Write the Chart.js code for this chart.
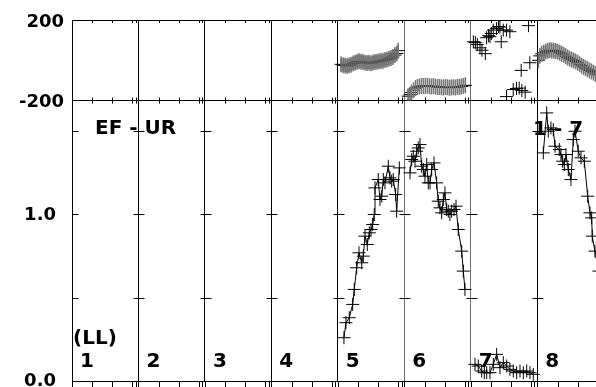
<!DOCTYPE html>
<html>
<head>
<meta charset="utf-8">
<script src="https://cdn.jsdelivr.net/npm/chart.js@4.4.1/dist/chart.umd.min.js"></script>
<style>
  html, body { margin: 0; padding: 0; background: #fff; overflow: hidden; }
  canvas { display: block; }
</style>
</head>
<body>
<canvas id="visChart" width="596" height="387"></canvas>
<script>
// baselines, numbered along the bottom of the amplitude panel
const baselines = ['1', '2', '3', '4', '5', '6', '7', '8'];
const phaseTicks = [-200, 0, 200];
const ampTicks = [0, 0.5, 1.0, 1.5];
const minorTicks = [0.307, 0.608, 0.909, 0.960];   // time ticks inside each baseline

// amplitude (t = fraction of the baseline's time range)
const amp5T = [0.093,0.123,0.173,0.224,0.248,0.284,0.319,0.360,0.384,0.409,0.444,0.474,0.500,0.525,0.549,0.560,0.609,0.635,0.661,0.685,0.710,0.760,0.786,0.811,0.835,0.871,0.886,0.926];
const amp5  = [0.26,0.35,0.38,0.46,0.55,0.68,0.77,0.71,0.75,0.87,0.82,0.89,0.91,0.94,1.00,1.16,1.21,1.09,1.11,1.21,1.19,1.29,1.22,1.20,1.21,1.12,1.02,1.28];
const amp6T = [0.087,0.112,0.136,0.162,0.187,0.211,0.237,0.263,0.287,0.312,0.338,0.362,0.388,0.413,0.448,0.488,0.512,0.538,0.564,0.588,0.613,0.639,0.663,0.688,0.714,0.749,0.779,0.813,0.865,0.889,0.914];
const amp6  = [1.25,1.33,1.35,1.32,1.38,1.40,1.42,1.29,1.27,1.23,1.30,1.19,1.19,1.27,1.31,1.19,1.08,1.04,1.01,1.09,1.13,1.03,1.02,1.00,1.02,1.03,1.05,0.91,0.78,0.66,0.55];
const amp7T = [0.065,0.114,0.166,0.205,0.241,0.290,0.340,0.391,0.441,0.491,0.542,0.591,0.641,0.692,0.742,0.792,0.843,0.892,0.942];
const amp7  = [0.10,0.09,0.06,0.05,0.05,0.05,0.10,0.16,0.08,0.11,0.09,0.07,0.06,0.05,0.06,0.05,0.06,0.05,0.04];
const amp8T = [0.093,0.144,0.168,0.208,0.243,0.269,0.333,0.359,0.384,0.409,0.434,0.469,0.509,0.544,0.570,0.619,0.660,0.710,0.761,0.795,0.821,0.830,0.870,0.930];
const amp8  = [1.37,1.61,1.50,1.52,1.51,1.41,1.39,1.36,1.32,1.30,1.36,1.27,1.21,1.45,1.50,1.38,1.34,1.32,1.11,1.01,0.98,0.87,0.78,0.66];

// phase in degrees
const ph5T = [0.05,0.08,0.11,0.14,0.17,0.20,0.23,0.26,0.29,0.32,0.35,0.38,0.41,0.44,0.47,0.50,0.53,0.56,0.59,0.62,0.65,0.68,0.71,0.74,0.77,0.80,0.83,0.86,0.89,0.91];
const ph5  = [-20,-24,-26,-28,-25,-22,-16,-12,-7,-5,-7,-9,-12,-13,-12,-14,-11,-8,-7,-5,-3,-2,2,4,8,12,17,26,34,48];
const ph6T = [0.06,0.09,0.11,0.14,0.17,0.20,0.23,0.26,0.29,0.32,0.35,0.38,0.41,0.44,0.47,0.50,0.53,0.56,0.59,0.62,0.65,0.68,0.71,0.74,0.77,0.80,0.83,0.86,0.89,0.92];
const ph6  = [-178,-170,-160,-148,-138,-133,-130,-128,-127,-128,-126,-129,-130,-128,-131,-133,-132,-134,-135,-133,-134,-136,-135,-134,-135,-133,-131,-130,-127,-124];
const ph7T = [0.04,0.07,0.10,0.14,0.17,0.22,0.24,0.27,0.29,0.31,0.34,0.39,0.42,0.44,0.46,0.49,0.54,0.59,0.87,0.54,0.64,0.69,0.73,0.77,0.82,0.76,0.89];
const ph7  = [92,88,78,62,50,33,112,122,117,133,150,158,167,165,92,150,150,142,172,-180,-145,-140,-138,-150,-158,-50,-12];
const ph8T = [0.02,0.04,0.07,0.10,0.13,0.16,0.19,0.22,0.25,0.28,0.31,0.34,0.37,0.40,0.43,0.46,0.49,0.52,0.55,0.58,0.61,0.64,0.67,0.70,0.73,0.76,0.79,0.82,0.85,0.88,0.91];
const ph8  = [0,22,32,38,44,47,50,49,48,46,43,38,33,27,20,14,8,3,-1,-6,-12,-20,-27,-33,-39,-44,-50,-56,-62,-68,-72];

const FONT = '"DejaVu Sans", sans-serif';

function points(seg, ts, vals) {
    return ts.map((t, i) => ({ x: seg - 1 + t, y: vals[i] }));
}

function ampSet(seg, ts, vals) {
    return {
        data: points(seg, ts, vals), yAxisID: 'yAmp', showLine: true,
        borderColor: '#000', borderWidth: 1, tension: 0,
        pointStyle: 'cross', pointRadius: 6.5, pointBorderWidth: 1, pointBorderColor: '#000'
    };
}

function phaseBars(seg, ts, vals) {
    return {
        data: points(seg, ts, vals), yAxisID: 'yPhase', showLine: false,
        pointStyle: 'line', pointRotation: 90, pointRadius: 8,
        pointBorderWidth: 1.5, pointBorderColor: '#777'
    };
}

function phaseCross(seg, ts, vals) {
    return {
        data: points(seg, ts, vals), yAxisID: 'yPhase', showLine: false,
        pointStyle: 'cross', pointRadius: 6.5, pointBorderWidth: 1, pointBorderColor: '#000'
    };
}

// axis decorations: small time ticks and the tick crosses on every baseline line
const framePlugin = {
    id: 'frame',
    beforeDatasetsDraw(chart) {
        const ctx = chart.ctx;
        const x = chart.scales.x, yP = chart.scales.yPhase, yA = chart.scales.yAmp;
        ctx.save();
        ctx.strokeStyle = '#000';
        ctx.lineWidth = 1;
        ctx.beginPath();
        baselines.forEach((b, k) => {
            minorTicks.forEach(f => {
                const px = Math.round(x.getPixelForValue(k + f)) + 0.5;
                ctx.moveTo(px, yP.top); ctx.lineTo(px, yP.top + 3);
                ctx.moveTo(px, yP.bottom - 3); ctx.lineTo(px, yP.bottom + 3);
                ctx.moveTo(px, yA.bottom); ctx.lineTo(px, yA.bottom + 7);
            });
            const bx = Math.round(x.getPixelForValue(k)) + 0.5;
            ctx.moveTo(bx, yA.bottom); ctx.lineTo(bx, yA.bottom + 7);
            ampTicks.forEach(v => {
                if (v === 0) return;
                const py = Math.round(yA.getPixelForValue(v)) + 0.5;
                ctx.moveTo(k === 0 ? bx : bx - 5, py);
                ctx.lineTo(bx + 6, py);
            });
        });
        ctx.stroke();
        ctx.restore();
    },
    afterDatasetsDraw(chart) {
        const ctx = chart.ctx;
        const x = chart.scales.x;
        ctx.save();
        ctx.fillStyle = '#000';
        ctx.font = 'bold 20px ' + FONT;
        ctx.textBaseline = 'alphabetic';
        ctx.fillText('EF - UR', 95, 134);
        ctx.fillText('1 - 7', 533, 134.5);
        ctx.fillText('(LL)', 73, 344);
        baselines.forEach((b, k) => {
            ctx.fillText(b, x.getPixelForValue(k) + 8, 366.5);
        });
        ctx.restore();
    }
};

const tickFont = { family: FONT, size: 18, weight: 'bold' };

new Chart(document.getElementById('visChart'), {
    type: 'scatter',
    data: {
        datasets: [
            ampSet(5, amp5T, amp5), ampSet(6, amp6T, amp6), ampSet(7, amp7T, amp7), ampSet(8, amp8T, amp8),
            phaseBars(5, ph5T, ph5), phaseBars(6, ph6T, ph6), phaseBars(8, ph8T, ph8),
            phaseCross(5, ph5T, ph5), phaseCross(6, ph6T, ph6), phaseCross(7, ph7T, ph7), phaseCross(8, ph8T, ph8)
        ]
    },
    options: {
        responsive: false,
        animation: false,
        layout: { autoPadding: false, padding: { top: 20, bottom: 6, left: 0, right: 0 } },
        plugins: { legend: { display: false }, tooltip: { enabled: false } },
        scales: {
            x: {
                type: 'linear', position: 'bottom', min: 0, max: 7.886,
                afterBuildTicks: s => { s.ticks = baselines.map((b, k) => ({ value: k })); },
                afterFit: s => { s.height = 0; s.paddingLeft = 0; s.paddingRight = 0; },
                ticks: { display: false },
                grid: {
                    color: c => (c.tick && (c.tick.value === 5 || c.tick.value === 6) ? '#6e6e6e' : '#000'),
                    lineWidth: 1, drawTicks: false
                },
                border: { color: '#000', width: 1 }
            },
            yAmp: {
                type: 'linear', position: 'left', stack: 'panels', stackWeight: 280,
                min: 0, max: 1.684,
                afterBuildTicks: s => { s.ticks = ampTicks.map(v => ({ value: v })); },
                afterFit: s => { s.width = 72; s.paddingTop = 0; s.paddingBottom = 0; },
                ticks: {
                    font: tickFont, color: '#000', padding: 8, labelOffset: 0.5,
                    callback: v => (Number.isInteger(v) ? v.toFixed(1) : '')
                },
                grid: { display: false },
                border: { color: '#000', width: 1 }
            },
            yPhase: {
                type: 'linear', position: 'left', stack: 'panels', stackWeight: 80.5,
                min: -200, max: 200,
                afterBuildTicks: s => { s.ticks = phaseTicks.map(v => ({ value: v })); },
                afterFit: s => { s.width = 72; s.paddingTop = 0; s.paddingBottom = 0; },
                ticks: {
                    font: tickFont, color: '#000', padding: 8, labelOffset: 2,
                    callback: v => (v === 0 ? '' : String(v))
                },
                grid: { color: '#000', lineWidth: 1, drawTicks: false },
                border: { color: '#000', width: 1 }
            }
        }
    },
    plugins: [framePlugin]
});
</script>
</body>
</html>
